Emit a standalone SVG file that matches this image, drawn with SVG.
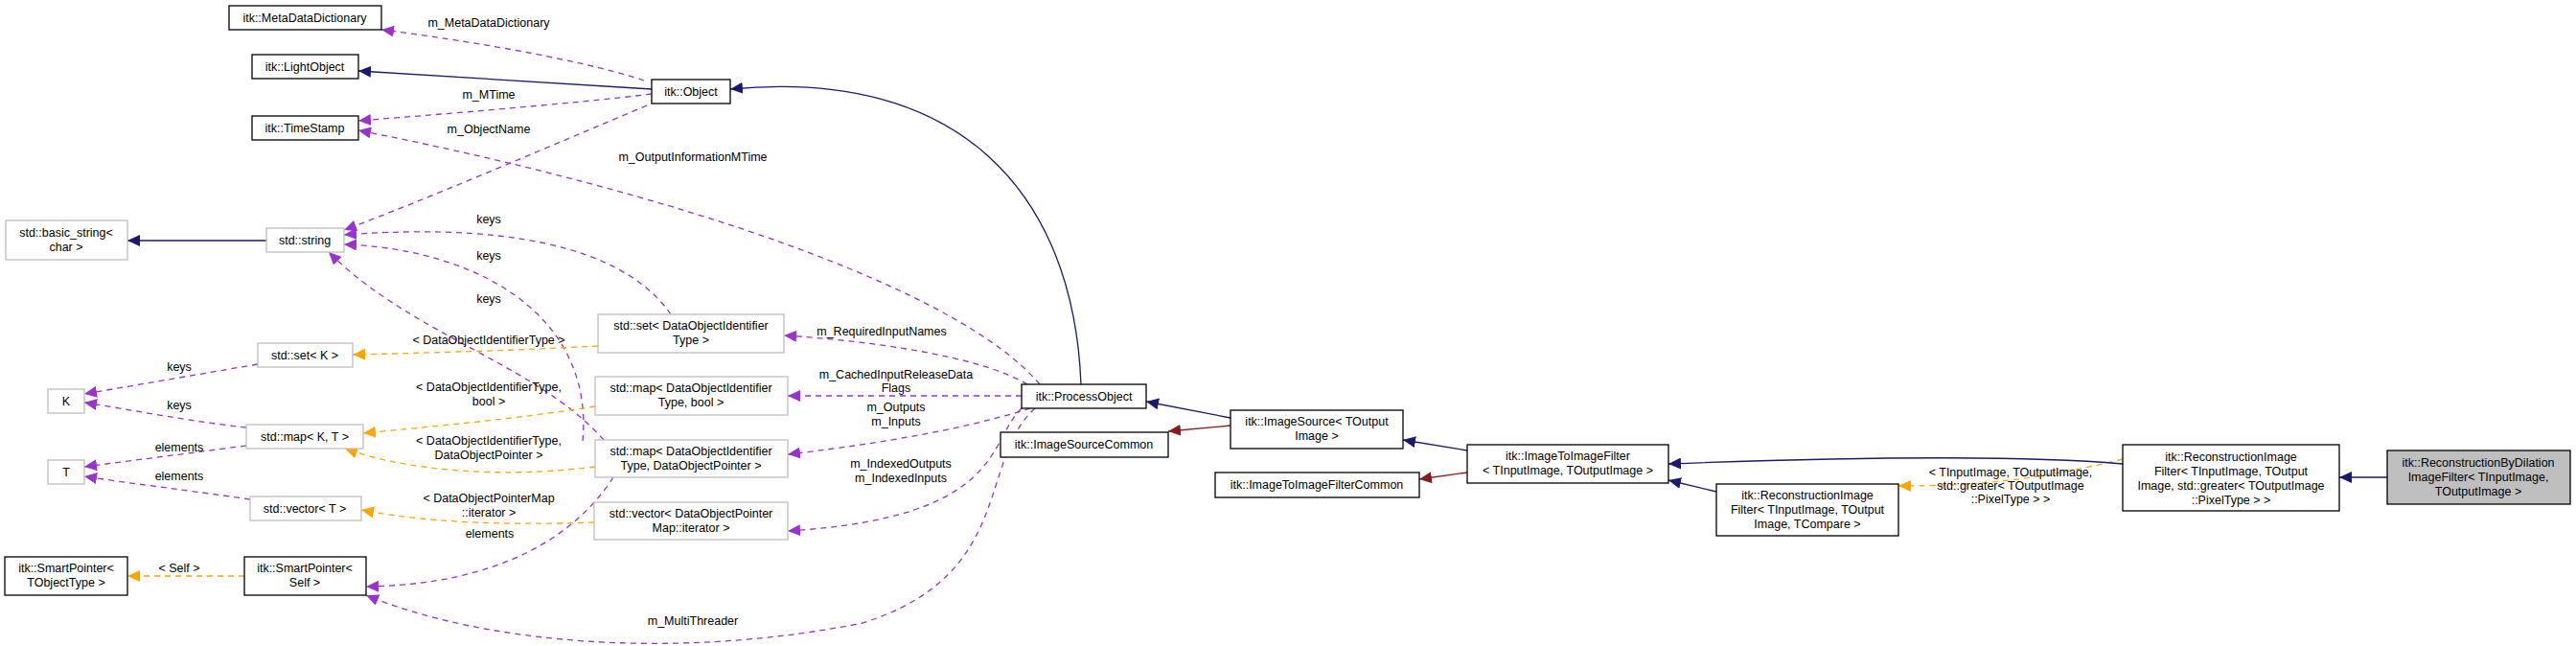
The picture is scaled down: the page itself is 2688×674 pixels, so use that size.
<svg xmlns="http://www.w3.org/2000/svg" width="2688" height="674" viewBox="0 0 2688 674">
<style>
text{font-family:"Liberation Sans",Arial,sans-serif;font-size:12.5px;fill:#000;text-anchor:middle}
.b{fill:#fff;stroke:#000;stroke-width:1.3}
.g{fill:#fff;stroke:#bfbfbf;stroke-width:1.3}
.s{fill:#bfbfbf;stroke:#000;stroke-width:1.3}
.e{fill:none;stroke-width:1.3}
.n{stroke:#191970;marker-end:url(#an)}
.r{stroke:#8b1a1a;marker-end:url(#ar)}
.p{stroke:#9a32cd;stroke-dasharray:6,5;marker-end:url(#ap)}
.o{stroke:#ffa500;stroke-dasharray:6,5;marker-end:url(#ao)}
</style>
<defs>
<marker id="an" markerUnits="userSpaceOnUse" markerWidth="14" markerHeight="12" refX="13" refY="6" orient="auto"><path d="M0,0L13,6L0,12z" fill="#191970"/></marker>
<marker id="ar" markerUnits="userSpaceOnUse" markerWidth="14" markerHeight="12" refX="13" refY="6" orient="auto"><path d="M0,0L13,6L0,12z" fill="#8b1a1a"/></marker>
<marker id="ap" markerUnits="userSpaceOnUse" markerWidth="14" markerHeight="12" refX="13" refY="6" orient="auto"><path d="M0,0L13,6L0,12z" fill="#9a32cd"/></marker>
<marker id="ao" markerUnits="userSpaceOnUse" markerWidth="14" markerHeight="12" refX="13" refY="6" orient="auto"><path d="M0,0L13,6L0,12z" fill="#ffa500"/></marker>
</defs>
<g id="connectors">
<path class="e n" d="M680,93 L374,74"/>
<path class="e p" d="M672,84 C600,60 470,40 398,31"/>
<path class="e p" d="M680,98 C600,108 450,120 374,126"/>
<path class="e p" d="M675,110 C580,150 440,210 359,240"/>
<path class="e p" d="M1085,401 C1000,300 700,200 374,136"/>
<path class="e p" d="M700,328 C660,270 560,230 359,245"/>
<path class="e p" d="M608,460 C620,330 500,260 359,255"/>
<path class="e p" d="M630,459 C560,380 430,350 343,263"/>
<path class="e p" d="M1072,401 C1020,370 900,355 818,350"/>
<path class="e p" d="M1066,413 L822,413"/>
<path class="e p" d="M1075,426 C1000,450 900,465 822,474"/>
<path class="e p" d="M1066,426 C1030,460 1050,540 822,554"/>
<path class="e p" d="M1080,426 C1020,480 1060,600 900,650 C700,690 500,670 382,621"/>
<path class="e p" d="M640,498 C600,560 520,610 382,612"/>
<path class="e o" d="M624,361 C530,366 450,368 368,370"/>
<path class="e o" d="M621,424 C540,437 450,445 379,452"/>
<path class="e o" d="M621,487 C520,500 420,490 360,468"/>
<path class="e o" d="M620,545 C530,548 450,546 377,532"/>
<path class="e o" d="M255,601 L133,601"/>
<path class="e o" d="M2215,479 C2120,502 2060,507 1981,507"/>
<path class="e p" d="M269,380 L88,411"/>
<path class="e p" d="M257,446 C200,440 140,428 88,420"/>
<path class="e p" d="M257,465 L88,487"/>
<path class="e p" d="M261,521 C200,512 140,505 88,497"/>
<path class="e n" d="M278,251 L133,251"/>
<path class="e n" d="M1128,401 C1120,200 1000,70 762,93"/>
<path class="e n" d="M1284,436 L1196,419"/>
<path class="e r" d="M1284,444 L1219,450"/>
<path class="e n" d="M1531,470 L1464,459"/>
<path class="e r" d="M1531,493 L1481,500"/>
<path class="e n" d="M1791,513 L1741,501"/>
<path class="e n" d="M2215,484 C2100,474 1900,478 1741,484"/>
<path class="e n" d="M2491,498 L2441,498"/>
</g>
<g id="labels">
<text x="510" y="28">m_MetaDataDictionary</text>
<text x="510" y="103">m_MTime</text>
<text x="510" y="139">m_ObjectName</text>
<text x="723" y="168">m_OutputInformationMTime</text>
<text x="510" y="233">keys</text>
<text x="510" y="271">keys</text>
<text x="510" y="316">keys</text>
<text x="920" y="350">m_RequiredInputNames</text>
<text x="935" y="395">m_CachedInputReleaseData</text>
<text x="935" y="409">Flags</text>
<text x="935" y="429">m_Outputs</text>
<text x="935" y="444">m_Inputs</text>
<text x="940" y="488">m_IndexedOutputs</text>
<text x="940" y="503">m_IndexedInputs</text>
<text x="510" y="359">&lt; DataObjectIdentifierType &gt;</text>
<text x="187" y="387">keys</text>
<text x="187" y="427">keys</text>
<text x="510" y="408">&lt; DataObjectIdentifierType,</text>
<text x="510" y="423">bool &gt;</text>
<text x="187" y="471">elements</text>
<text x="187" y="501">elements</text>
<text x="510" y="464">&lt; DataObjectIdentifierType,</text>
<text x="510" y="479">DataObjectPointer &gt;</text>
<text x="510" y="524">&lt; DataObjectPointerMap</text>
<text x="510" y="539">::iterator &gt;</text>
<text x="511" y="561">elements</text>
<text x="187" y="597">&lt; Self &gt;</text>
<text x="723" y="652">m_MultiThreader</text>
<text x="2098" y="497">&lt; TInputImage, TOutputImage,</text>
<text x="2098" y="511">std::greater&lt; TOutputImage</text>
<text x="2098" y="525">::PixelType &gt; &gt;</text>
</g>
<g id="n_mdd"><rect class="b" x="239" y="6" width="159" height="25"/><text x="318" y="23">itk::MetaDataDictionary</text></g>
<g id="n_light"><rect class="b" x="263" y="57" width="111" height="25"/><text x="318" y="74">itk::LightObject</text></g>
<g id="n_ts"><rect class="b" x="263" y="121" width="111" height="25"/><text x="318" y="138">itk::TimeStamp</text></g>
<g id="n_obj"><rect class="b" x="680" y="83" width="82" height="25"/><text x="721" y="100">itk::Object</text></g>
<g id="n_bstr"><rect class="g" x="6" y="230" width="127" height="41"/><text x="69" y="247">std::basic_string&lt;</text><text x="69" y="262">char &gt;</text></g>
<g id="n_str"><rect class="g" x="278" y="238" width="81" height="25"/><text x="318" y="255">std::string</text></g>
<g id="n_setdoi"><rect class="g" x="624" y="328" width="194" height="40"/><text x="721" y="344">std::set&lt; DataObjectIdentifier</text><text x="721" y="359">Type &gt;</text></g>
<g id="n_setk"><rect class="g" x="269" y="358" width="99" height="25"/><text x="318" y="375">std::set&lt; K &gt;</text></g>
<g id="n_k"><rect class="g" x="50" y="406" width="38" height="25"/><text x="69" y="423">K</text></g>
<g id="n_mapbool"><rect class="g" x="621" y="393" width="201" height="40"/><text x="721" y="409">std::map&lt; DataObjectIdentifier</text><text x="721" y="424">Type, bool &gt;</text></g>
<g id="n_mapkt"><rect class="g" x="257" y="443" width="122" height="25"/><text x="318" y="460">std::map&lt; K, T &gt;</text></g>
<g id="n_t"><rect class="g" x="50" y="480" width="38" height="25"/><text x="69" y="497">T</text></g>
<g id="n_mapdop"><rect class="g" x="621" y="459" width="201" height="39"/><text x="721" y="475">std::map&lt; DataObjectIdentifier</text><text x="721" y="490">Type, DataObjectPointer &gt;</text></g>
<g id="n_vect"><rect class="g" x="261" y="518" width="116" height="25"/><text x="318" y="535">std::vector&lt; T &gt;</text></g>
<g id="n_vecdop"><rect class="g" x="620" y="524" width="202" height="39"/><text x="721" y="540">std::vector&lt; DataObjectPointer</text><text x="721" y="555">Map::iterator &gt;</text></g>
<g id="n_sptot"><rect class="b" x="5" y="581" width="128" height="40"/><text x="69" y="597">itk::SmartPointer&lt;</text><text x="69" y="612">TObjectType &gt;</text></g>
<g id="n_spself"><rect class="b" x="255" y="581" width="127" height="40"/><text x="318" y="597">itk::SmartPointer&lt;</text><text x="318" y="612">Self &gt;</text></g>
<g id="n_po"><rect class="b" x="1066" y="401" width="130" height="25"/><text x="1131" y="418">itk::ProcessObject</text></g>
<g id="n_isc"><rect class="b" x="1044" y="451" width="175" height="26"/><text x="1131" y="468">itk::ImageSourceCommon</text></g>
<g id="n_is"><rect class="b" x="1284" y="428" width="180" height="40"/><text x="1374" y="444">itk::ImageSource&lt; TOutput</text><text x="1374" y="459">Image &gt;</text></g>
<g id="n_itif"><rect class="b" x="1531" y="464" width="210" height="40"/><text x="1636" y="480">itk::ImageToImageFilter</text><text x="1636" y="495">&lt; TInputImage, TOutputImage &gt;</text></g>
<g id="n_itifc"><rect class="b" x="1268" y="493" width="213" height="26"/><text x="1374" y="510">itk::ImageToImageFilterCommon</text></g>
<g id="n_ritc"><rect class="b" x="1791" y="505" width="190" height="54"/><text x="1886" y="521">itk::ReconstructionImage</text><text x="1886" y="536">Filter&lt; TInputImage, TOutput</text><text x="1886" y="551">Image, TCompare &gt;</text></g>
<g id="n_rigr"><rect class="b" x="2215" y="464" width="226" height="69"/><text x="2328" y="481">itk::ReconstructionImage</text><text x="2328" y="496">Filter&lt; TInputImage, TOutput</text><text x="2328" y="511">Image, std::greater&lt; TOutputImage</text><text x="2328" y="526">::PixelType &gt; &gt;</text></g>
<g id="n_rbd"><rect class="s" x="2491" y="470" width="191" height="56"/><text x="2586" y="487">itk::ReconstructionByDilation</text><text x="2586" y="502">ImageFilter&lt; TInputImage,</text><text x="2586" y="517">TOutputImage &gt;</text></g>
</svg>
